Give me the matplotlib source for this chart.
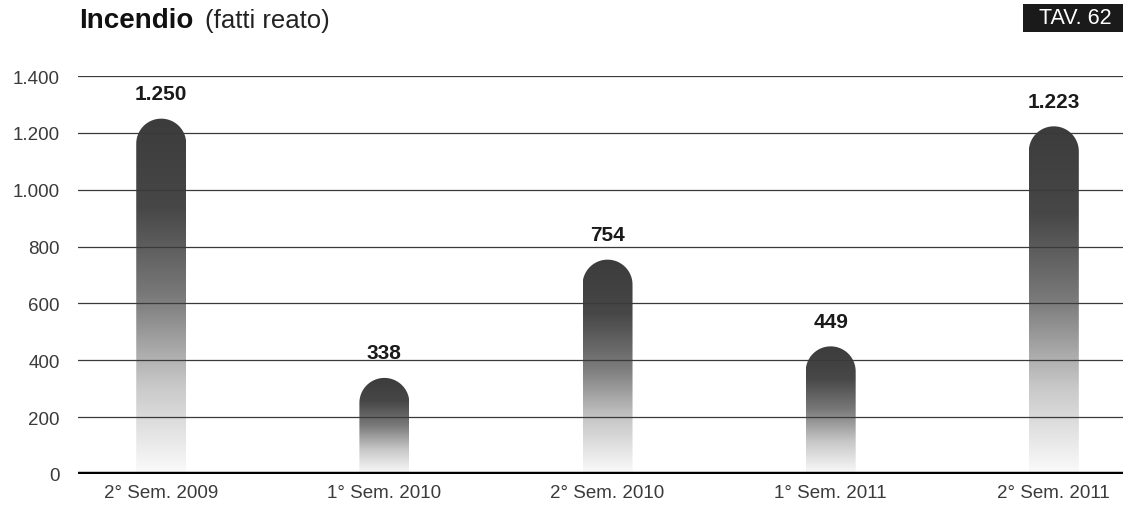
import numpy as np
import matplotlib.pyplot as plt
from matplotlib.path import Path
from matplotlib.patches import PathPatch
from matplotlib.colors import LinearSegmentedColormap

# dati
periodi = ['2° Sem. 2009', '1° Sem. 2010', '2° Sem. 2010', '1° Sem. 2011', '2° Sem. 2011']
valori = [1250, 338, 754, 449, 1223]
etichette = ['1.250', '338', '754', '449', '1.223']
yticks = [0, 200, 400, 600, 800, 1000, 1200, 1400]
ytick_labels = ['0', '200', '400', '600', '800', '1.000', '1.200', '1.400']

plt.rcParams['font.family'] = ['Liberation Sans', 'DejaVu Sans']

W, H = 1123, 510
fig = plt.figure(figsize=(W / 100, H / 100), dpi=100)
ax = fig.add_axes([78 / W, 35 / H, 1 - 78 / W, 398 / H])

xmin, xmax = -0.373, 4.31
ymin, ymax = 0, 1400
ax.set_xlim(xmin, xmax)
ax.set_ylim(ymin, ymax)

# pixel -> unita dati
px_x = (W - 78) / (xmax - xmin)
px_y = 398 / (ymax - ymin)
larg = 50 / px_x
rx = larg / 2
ry = 25 / px_y

cmap = LinearSegmentedColormap.from_list('grad', ['#fbfbfb', '#c8c8c8', '#7a7a7a', '#474747', '#3c3c3c'])
grad = np.linspace(0, 1, 256).reshape(-1, 1)

for i, v in enumerate(valori):
    x0, x1 = i - rx, i + rx
    t = np.linspace(np.pi, 0, 40)
    arc = np.column_stack([i + rx * np.cos(t), v - ry + ry * np.sin(t)])
    verts = np.vstack([[x0, 0], [x0, v - ry], arc, [x1, 0], [x0, 0]])
    codes = [Path.MOVETO] + [Path.LINETO] * (len(verts) - 2) + [Path.CLOSEPOLY]
    patch = PathPatch(Path(verts, codes), facecolor='none', edgecolor='none')
    ax.add_patch(patch)
    im = ax.imshow(grad, extent=(x0, x1, 0, v), origin='lower', cmap=cmap,
                   aspect='auto', zorder=1, interpolation='bilinear')
    im.set_clip_path(patch)
    ax.text(i, v + 55, etichette[i], ha='center', va='bottom',
            fontsize=15, fontweight='bold', color='#1a1a1a')

ax.set_xlim(xmin, xmax)
ax.set_ylim(ymin, ymax)

# griglia sopra le barre
for y in yticks[1:]:
    ax.axhline(y, color='#3a3a3a', lw=0.9, zorder=3)
ax.axhline(0, color='black', lw=3.2, zorder=4)

for s in ax.spines.values():
    s.set_visible(False)
ax.set_yticks(yticks)
ax.set_yticklabels(ytick_labels, fontsize=13.5, color='#3a3a3a')
ax.set_xticks(range(len(periodi)))
ax.set_xticklabels(periodi, fontsize=13.5, color='#3a3a3a')
ax.tick_params(axis='both', length=0)
ax.tick_params(axis='y', pad=13)
ax.tick_params(axis='x', pad=7)

# titolo
fig.text(79 / W, 1 - 21 / H, 'Incendio', fontsize=20, fontweight='bold',
         ha='left', va='center', color='#111111')
fig.text(205 / W, 1 - 21 / H, '(fatti reato)', fontsize=18.5,
         ha='left', va='center', color='#222222')

# riquadro TAV
fig.patches.append(plt.Rectangle((1023 / W, 1 - 33 / H), 100 / W, 28 / H,
                                 transform=fig.transFigure, facecolor='#1a1a1a',
                                 edgecolor='none'))
fig.text(1075 / W, 1 - 19 / H, 'TAV. 62', fontsize=15.5, color='white',
         ha='center', va='center')

plt.savefig('out.png', dpi=100)
